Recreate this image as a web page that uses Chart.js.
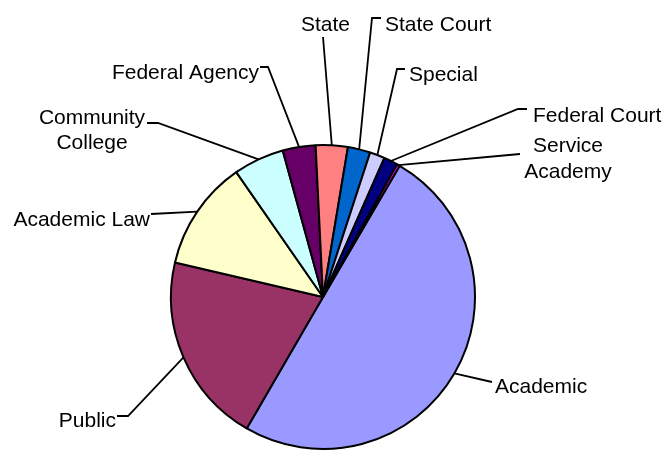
<!DOCTYPE html>
<html>
<head>
<meta charset="utf-8">
<script src="https://cdn.jsdelivr.net/npm/chart.js@4.4.1/dist/chart.umd.min.js"></script>
<style>
  body { margin: 0; background: #fff; }
</style>
</head>
<body>
<canvas id="chart" width="668" height="451"></canvas>
<script>
// data (shares in %, clockwise from the Academic slice)
var categories = ["Academic", "Public", "Academic Law", "Community College", "Federal Agency",
                  "State", "State Court", "Special", "Federal Court", "Service Academy"];
var shares = [50.0, 20.3, 11.7, 5.4, 3.5, 3.4, 2.4, 1.6, 1.5, 0.3];

var colours = ["#9999FF", "#993366", "#FFFFCC", "#CCFFFF", "#660066",
               "#FF8080", "#0066CC", "#CCCCFF", "#000080", "#FF00FF"];

// where each label sits and how its leader bends (pixels)
var labelLayout = {
    "Academic":          { lines: ["Academic"], align: "left", x: 495, y: [393], path: [[492, 382]] },
    "Public":            { lines: ["Public"], align: "right", x: 116, y: [427], path: [[128, 416], [117, 416]] },
    "Academic Law":      { lines: ["Academic Law"], align: "right", x: 150, y: [226], path: [[151, 214]] },
    "Community College": { lines: ["Community", "College"], align: "center", x: 92, y: [124, 149], path: [[158, 123], [147, 123]] },
    "Federal Agency":    { lines: ["Federal Agency"], align: "right", x: 259, y: [79], path: [[268, 67], [260, 67]] },
    "State":             { lines: ["State"], align: "center", x: 325.5, y: [31], path: [[323, 37]] },
    "State Court":       { lines: ["State Court"], align: "left", x: 385, y: [31], path: [[372, 18], [381, 18]] },
    "Special":           { lines: ["Special"], align: "left", x: 409, y: [81], path: [[397, 69], [405, 69]] },
    "Federal Court":     { lines: ["Federal Court"], align: "left", x: 533, y: [122], path: [[518, 109], [527, 109]] },
    "Service Academy":   { lines: ["Service", "Academy"], align: "center", x: 568, y: [152, 178], path: [[520, 154]] }
};

// leader lines + labels
var leaderLabels = {
    id: "leaderLabels",
    afterDraw: function(chart) {
        var ctx = chart.ctx;
        var arcs = chart.getDatasetMeta(0).data;
        ctx.save();
        ctx.strokeStyle = "#000";
        ctx.lineWidth = 1.8;
        ctx.fillStyle = "#000";
        ctx.font = "21px 'Liberation Sans', Arial, sans-serif";
        ctx.textBaseline = "alphabetic";
        arcs.forEach(function(arc, i) {
            var lay = labelLayout[categories[i]];
            var mid = (arc.startAngle + arc.endAngle) / 2;
            var sx = arc.x + Math.cos(mid) * arc.outerRadius;
            var sy = arc.y + Math.sin(mid) * arc.outerRadius;
            ctx.beginPath();
            ctx.moveTo(sx, sy);
            lay.path.forEach(function(p) { ctx.lineTo(p[0], p[1]); });
            ctx.stroke();
            ctx.textAlign = lay.align;
            lay.lines.forEach(function(t, k) {
                ctx.fillText(t, lay.x, lay.y[k]);
            });
        });
        ctx.restore();
    }
};

new Chart(document.getElementById("chart"), {
    type: "pie",
    data: {
        labels: categories,
        datasets: [{
            data: shares,
            backgroundColor: colours,
            borderColor: "#000",
            borderWidth: 2
        }]
    },
    options: {
        responsive: false,
        animation: false,
        rotation: 30.3,
        radius: 152,
        layout: { padding: { left: 171, right: 193, top: 143, bottom: 0 } },
        plugins: {
            legend: { display: false },
            tooltip: { enabled: false }
        }
    },
    plugins: [leaderLabels]
});
</script>
</body>
</html>
